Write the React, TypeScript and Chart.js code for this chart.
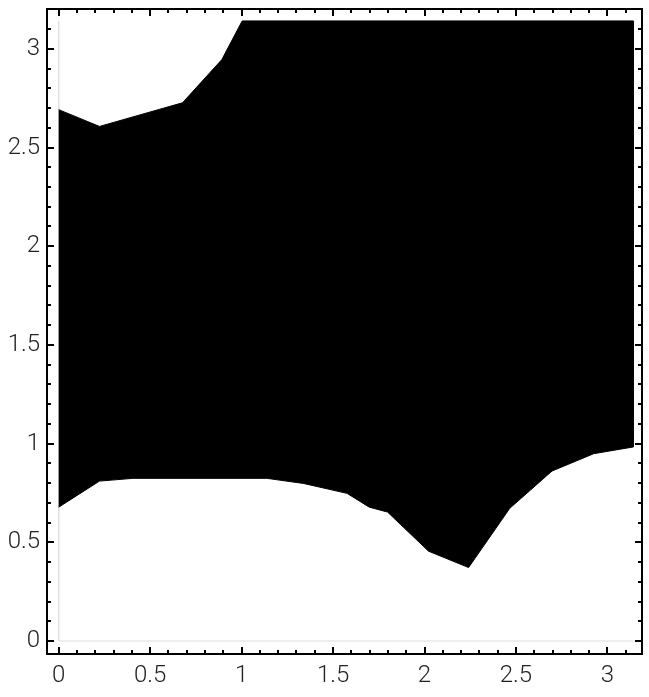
import React, { useEffect, useRef } from "react";
import { Chart, registerables } from "chart.js";

Chart.register(...registerables);

const PI = Math.PI;

// Upper boundary of the region (left to right)
const upperX = [0, 0.223, 0.677, 0.892, 1.003, PI];
const upperY = [2.692, 2.607, 2.727, 2.946, PI, PI];

// Lower boundary of the region (left to right)
const lowerX = [0, 0.223, 0.407, 1.138, 1.339, 1.576, 1.698, 1.798, 2.022, 2.241, 2.466, 2.697, 2.925, PI];
const lowerY = [0.678, 0.81, 0.824, 0.824, 0.798, 0.748, 0.678, 0.653, 0.455, 0.372, 0.672, 0.861, 0.949, 0.983];

// Domain edges (light gray)
const edgeX = [0, 0, PI];
const edgeY = [PI, 0, 0];

const majorTicks = [0, 0.5, 1, 1.5, 2, 2.5, 3];
const minorTicks = Array.from({ length: 32 }, (_, i) => i / 10);

const framePlugin = {
  id: "mmaFrame",
  afterDraw(chart: any) {
    const { ctx, chartArea: a, scales } = chart;
    const xs = scales.x;
    const ys = scales.y;
    ctx.save();
    ctx.strokeStyle = "#000";
    ctx.lineWidth = 2;
    ctx.strokeRect(a.left, a.top, a.right - a.left, a.bottom - a.top);
    const isMajor = (v: number) => majorTicks.some((m) => Math.abs(m - v) < 1e-6);
    ctx.beginPath();
    for (const v of minorTicks) {
      const len = isMajor(v) ? 7 : 4;
      const px = Math.round(xs.getPixelForValue(v));
      ctx.moveTo(px, a.bottom);
      ctx.lineTo(px, a.bottom - len);
      ctx.moveTo(px, a.top);
      ctx.lineTo(px, a.top + len);
      const py = Math.round(ys.getPixelForValue(v));
      ctx.moveTo(a.left, py);
      ctx.lineTo(a.left + len, py);
      ctx.moveTo(a.right, py);
      ctx.lineTo(a.right - len, py);
    }
    ctx.stroke();
    ctx.restore();
  },
};

export default function App() {
  const ref = useRef<HTMLCanvasElement | null>(null);
  useEffect(() => {
    document.body.style.margin = "0";
    const polygon = [
      ...upperX.map((x, i) => ({ x, y: upperY[i] })),
      ...lowerX.map((x, i) => ({ x, y: lowerY[i] })).reverse(),
    ];
    const edges = edgeX.map((x, i) => ({ x, y: edgeY[i] }));
    const font = { family: "Roboto", size: 24, weight: "300" as any };
    const fmt = (v: any) => String(Number(v));
    const chart = new Chart(ref.current!, {
      type: "line",
      data: {
        datasets: [
          {
            data: polygon,
            fill: "shape",
            backgroundColor: "#000",
            borderColor: "#000",
            borderWidth: 1,
            pointRadius: 0,
            tension: 0,
          },
          {
            data: edges,
            fill: false,
            borderColor: "#dedede",
            borderWidth: 1,
            pointRadius: 0,
            tension: 0,
          },
        ],
      },
      options: {
        animation: false,
        responsive: false,
        layout: { padding: { top: 9, right: 7, left: 0, bottom: 0 } },
        plugins: { legend: { display: false }, tooltip: { enabled: false } },
        scales: {
          x: {
            type: "linear",
            min: -0.064,
            max: 3.189,
            grid: { display: false, drawTicks: false },
            border: { display: false },
            ticks: {
              stepSize: 0.5,
              includeBounds: false,
              autoSkip: false,
              maxRotation: 0,
              color: "#222",
              font,
              padding: 8,
              callback: fmt,
            },
            afterFit(scale: any) {
              scale.height = 43;
              scale.paddingLeft = 0;
              scale.paddingRight = 0;
            },
          },
          y: {
            type: "linear",
            min: -0.066,
            max: 3.202,
            grid: { display: false, drawTicks: false },
            border: { display: false },
            ticks: {
              stepSize: 0.5,
              includeBounds: false,
              autoSkip: false,
              color: "#222",
              font,
              padding: 7,
              callback: fmt,
            },
            afterFit(scale: any) {
              scale.width = 47;
              scale.paddingTop = 0;
              scale.paddingBottom = 0;
            },
          },
        },
      },
      plugins: [framePlugin],
    });
    return () => chart.destroy();
  }, []);
  return <canvas ref={ref} width={649} height={697} style={{ display: "block" }} />;
}
